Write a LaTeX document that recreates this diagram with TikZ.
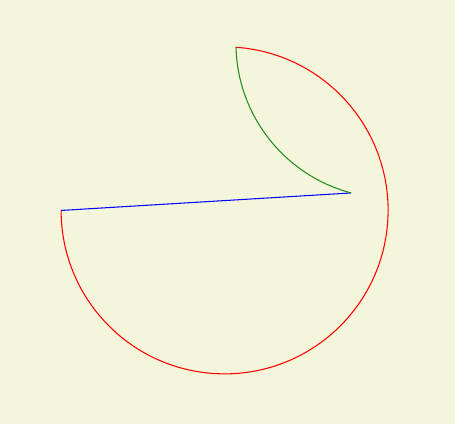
\documentclass[tikz,border=0pt]{standalone}
\usetikzlibrary{calc}
\definecolor{bgbeige}{RGB}{245,245,220}
\definecolor{arcgreen}{RGB}{30,140,30}
\begin{document}
\begin{tikzpicture}[scale=0.02, line width=0.6pt]
		\fill[bgbeige] (0,0) rectangle (455,424);
		\useasboundingbox (0,0) rectangle (455,424);

		\coordinate (c) at (224.5,213.5);
		\coordinate (top) at ($(c)+(86:163.5)$);
		\coordinate (left) at (61,213.5);
		\coordinate (tip) at (351,231);

		\draw[red] (top) arc[start angle=86, end angle=-180, radius=163.5];
		\draw[blue] (left) -- (tip);
		\draw[arcgreen] (tip) arc[start angle=255.1, end angle=181.4, radius=155];

	\end{tikzpicture}
\end{document}
